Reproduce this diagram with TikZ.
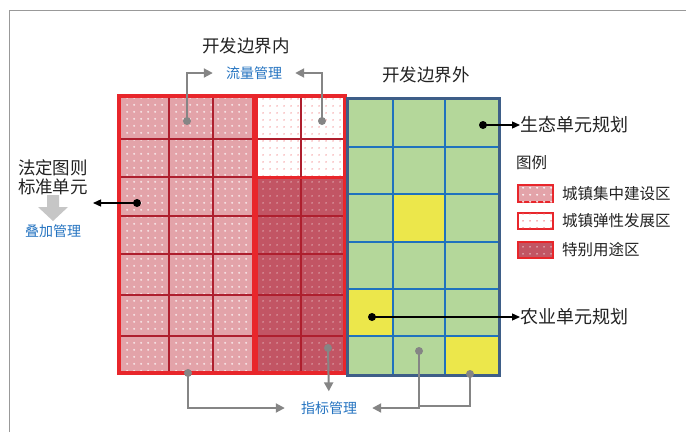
\documentclass[tikz,border=0pt]{standalone}
\usepackage{fontspec}
\newfontfamily\cjk{Noto Sans CJK SC}
\usetikzlibrary{patterns.meta,arrows.meta}
\definecolor{redB}{HTML}{E8262B}
\definecolor{redL}{HTML}{AE1F2E}
\definecolor{pinkA}{HTML}{E3A3A9}
\definecolor{pinkC}{HTML}{C25564}
\definecolor{greenF}{HTML}{B4D79A}
\definecolor{yellowF}{HTML}{ECE74B}
\definecolor{blueL}{HTML}{1F72BE}
\definecolor{blueB}{HTML}{3E5E88}
\definecolor{grayC}{HTML}{858585}
\definecolor{txtBlue}{HTML}{2473C0}
\definecolor{txt}{HTML}{222222}
\tikzdeclarepattern{
  name=wplus,
  type=uncolored,
  bottom left={(0pt,0pt)},
  top right={(6.5pt,6.5pt)},
  tile size={(6.5pt,6.5pt)},
  code={\pgfpathrectangle{\pgfpoint{2.2pt}{3.0pt}}{\pgfpoint{2.2pt}{0.7pt}}
        \pgfpathrectangle{\pgfpoint{2.95pt}{2.25pt}}{\pgfpoint{0.7pt}{2.2pt}}
        \pgfusepath{fill}}
}
\tikzdeclarepattern{
  name=sdots,
  type=uncolored,
  bottom left={(0pt,0pt)},
  top right={(6.5pt,6.5pt)},
  tile size={(6.5pt,6.5pt)},
  code={\pgfpathcircle{\pgfpoint{3.25pt}{3.25pt}}{0.75pt}\pgfusepath{fill}}
}
\tikzset{
  lbl/.style={font=\cjk\fontsize{17.5}{19}\selectfont, text=txt, inner sep=0pt, align=center},
  lgd/.style={font=\cjk\fontsize{15.5}{17}\selectfont, text=txt, inner sep=0pt, anchor=west},
  mgmt/.style={font=\cjk\fontsize{14}{16}\selectfont, text=txtBlue, inner sep=0pt},
  zoneA/.style={fill=pinkA, postaction={pattern=wplus, pattern color=white}},
  zoneB/.style={fill=white, postaction={pattern=sdots, pattern color=redB!70}},
  zoneC/.style={fill=pinkC, postaction={pattern=sdots, pattern color=white!80!pinkC}},
  gline/.style={draw=redL, line width=1.6pt},
  bline/.style={draw=blueL, line width=2pt},
  bdot/.style={circle, fill=black, inner sep=0pt, minimum size=8pt},
  gdot/.style={circle, fill=grayC, inner sep=0pt, minimum size=8pt},
  garr/.style={draw=grayC, line width=2pt, -{Triangle[length=9pt,width=9pt]}},
  gln/.style={draw=grayC, line width=2pt},
  karr/.style={draw=black, line width=1.3pt, -{Triangle[length=8pt,width=7pt]}},
}
\begin{document}
\begin{tikzpicture}[x=1pt,y=-1pt]
\useasboundingbox (0,0) rectangle (686,432);
% outer frame (partial)
\draw[draw=gray!80, line width=1pt] (9,432) -- (9,10) -- (686,10);

% ---- red grid (inside development boundary)
\path[zoneA] (119,96) rectangle (255,373);
\path[zoneB] (255,96) rectangle (345,177);
\path[zoneC] (255,177) rectangle (345,373);
\foreach \y in {139,177,216,254,295,336} \draw[gline] (119,\y) -- (345,\y);
\foreach \x in {169,213,301} \draw[gline] (\x,96) -- (\x,373);
\draw[redB, line width=3pt] (255,96) rectangle (345,177);
\draw[redL, line width=1.6pt] (301,96) -- (301,177) (255,139) -- (345,139);
\draw[redB, line width=5.5pt] (255,96) -- (255,373);
\draw[redB, line width=4pt] (119,96) rectangle (345,373);

% ---- blue grid (outside development boundary)
\fill[greenF] (347,98) rectangle (499,375);
\fill[yellowF] (393,194) rectangle (445,242);
\fill[yellowF] (347,289) rectangle (393,336);
\fill[yellowF] (445,336) rectangle (499,375);
\foreach \y in {147,194,242,289,336} \draw[bline] (347,\y) -- (499,\y);
\foreach \x in {393,445} \draw[bline] (\x,98) -- (\x,375);
\draw[blueB, line width=3pt] (347,98) rectangle (499,375);

% ---- titles
\node[lbl] (tIn) at (246,46) {开发边界内};
\node[lbl] (tOut) at (426,75) {开发边界外};
\node[mgmt] (tFlow) at (254,73) {流量管理};
\node[lbl, anchor=west, font=\cjk\fontsize{18}{20}\selectfont] (tEco) at (520,125) {生态单元规划};
\node[lbl, anchor=west, font=\cjk\fontsize{18}{20}\selectfont] (tAgr) at (520,317) {农业单元规划};
\node[lbl] (tStd) at (53,177) {法定图则\\标准单元};
\node[mgmt] (tOver) at (53,231) {叠加管理};
\node[mgmt] (tIdx) at (329,408) {指标管理};

% ---- legend
\node[lgd] (tLeg) at (516,163) {图例};
\path[zoneA, draw=redB, line width=1.5pt] (518,185) rectangle (553,202);
\node[lgd] (lg1) at (562,193.5) {城镇集中建设区};
\path[zoneB, draw=redB, line width=1.5pt] (518,213) rectangle (553,229);
\node[lgd] (lg2) at (562,221) {城镇弹性发展区};
\path[zoneC, draw=redB, line width=1.5pt] (518,242) rectangle (553,258);
\node[lgd] (lg3) at (562,250) {特别用途区};

% ---- gray down arrow
\fill[gray!45] (47,195) -- (59,195) -- (59,207) -- (68,207) -- (53,221) -- (38,207) -- (47,207) -- cycle;

% ---- dots
\node[bdot] (dEco) at (483,125) {};
\node[bdot] (dAgr) at (372,317) {};
\node[bdot] (dStd) at (137,203) {};
\node[gdot] (dA1) at (187,121) {};
\node[gdot] (dB1) at (322,121) {};
\node[gdot] (dA3) at (188,373) {};
\node[gdot] (dC) at (328,348) {};
\node[gdot] (dG) at (419,351) {};
\node[gdot] (dY) at (470,374) {};
\coordinate (cL) at (93,203);
\coordinate (cBot) at (419,406);

% ---- connectors
\draw[garr, shorten >=13pt] (dA1.center) |- (tFlow.west);
\draw[garr, shorten >=13pt] (dB1.center) |- (tFlow.east);
\draw[karr] (dEco.center) -- (tEco.west);
\draw[karr] (dAgr.center) -- (tAgr.west);
\draw[karr] (dStd.center) -- (cL);
\draw[garr, shorten >=16pt] (dA3.center) |- (tIdx.west);
\draw[garr, shorten >=10pt] (dC.center) -- (tIdx.north);
\draw[garr, shorten >=15pt] (dG.center) |- (tIdx.east);
\draw[gln] (dY.center) |- (cBot);
\end{tikzpicture}
\end{document}
